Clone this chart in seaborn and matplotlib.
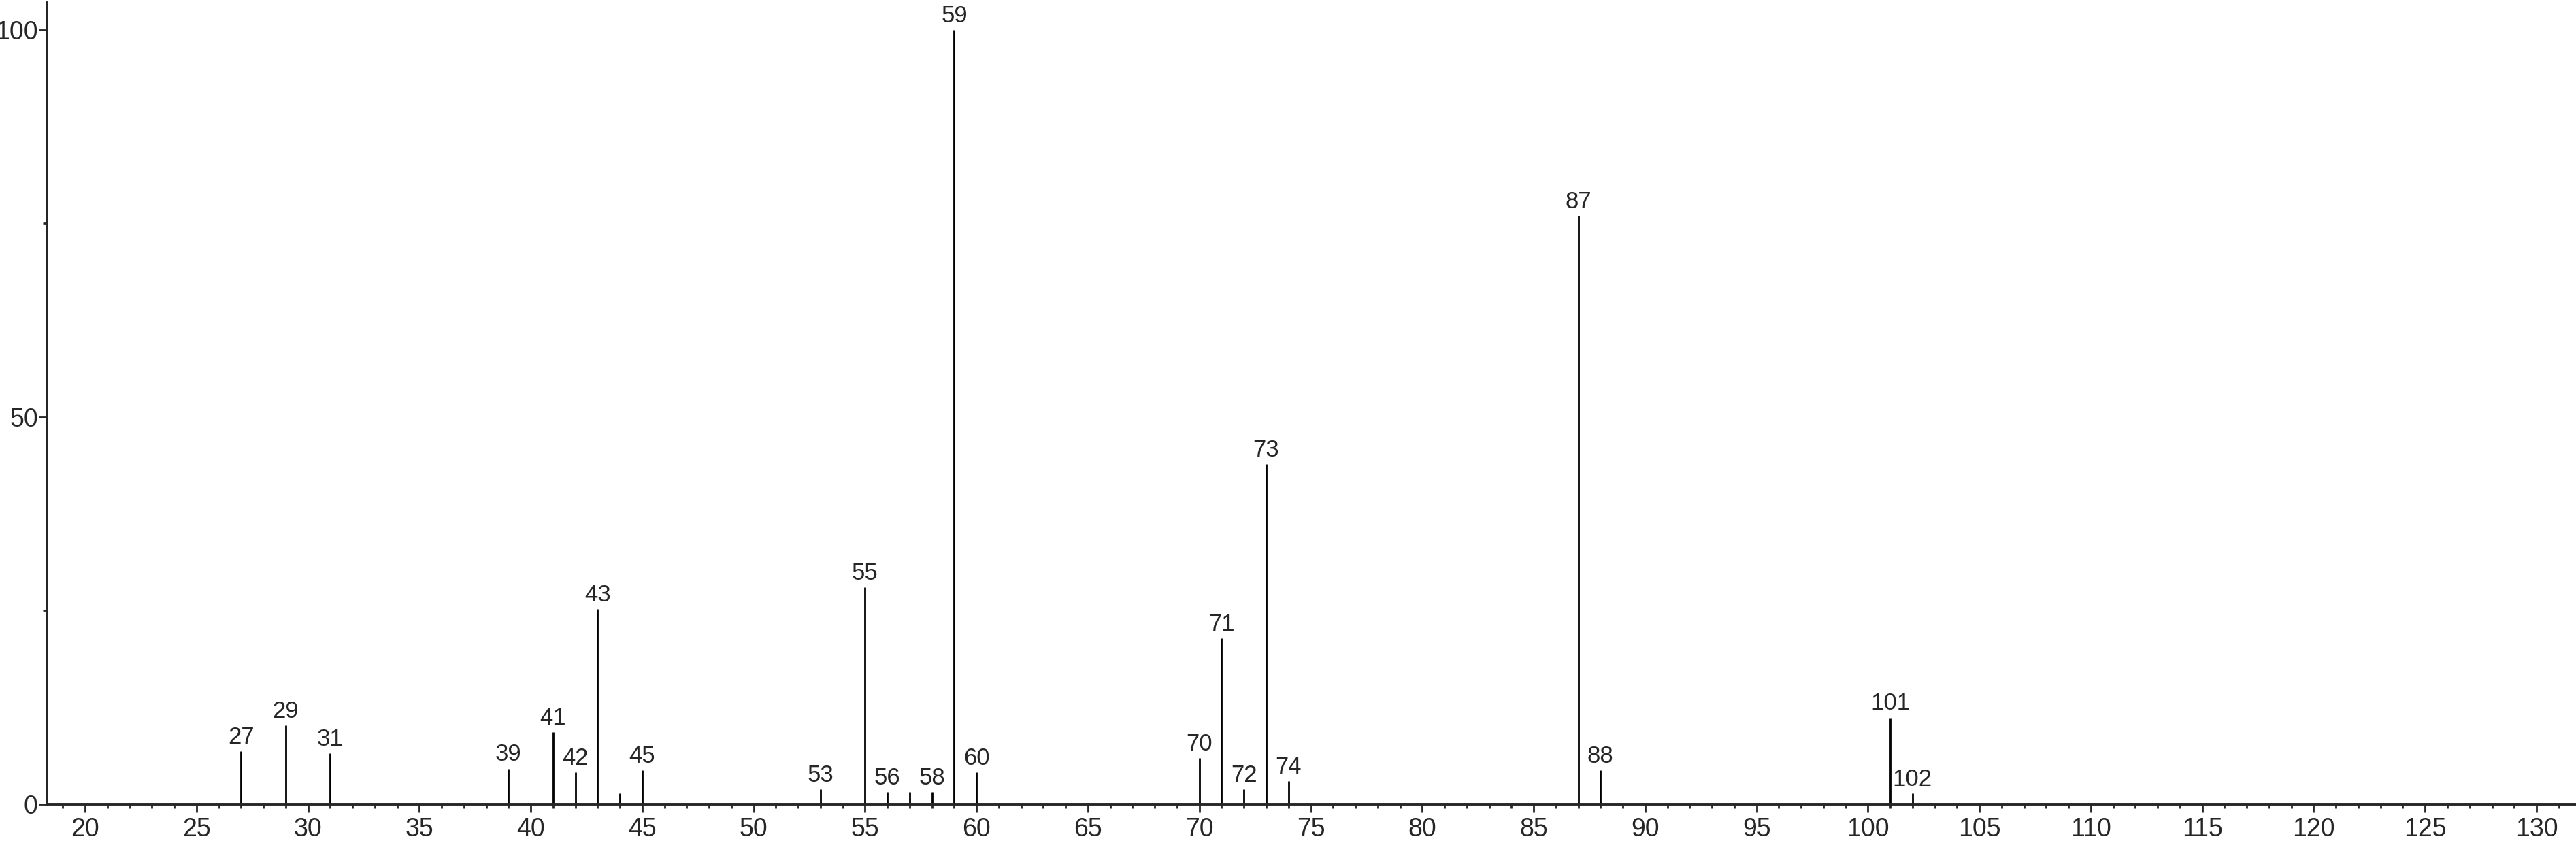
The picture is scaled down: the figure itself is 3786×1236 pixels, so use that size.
import numpy as np
import pandas as pd
import matplotlib
matplotlib.use("Agg")
import matplotlib.pyplot as plt
import seaborn as sns
from matplotlib.ticker import MultipleLocator

# m/z values and relative intensities
mz = [27, 29, 31, 39, 41, 42, 43, 44, 45, 53, 55, 56, 57, 58, 59, 60,
      70, 71, 72, 73, 74, 87, 88, 101, 102]
intensity = [6.85, 10.2, 6.55, 4.6, 9.3, 4.1, 25.2, 1.4, 4.4, 1.9, 28.0, 1.6, 1.6, 1.6, 100.0, 4.1,
             6.0, 21.4, 1.9, 43.9, 3.0, 76.0, 4.4, 11.2, 1.4]
# peaks that carry a text label
labelled = [27, 29, 31, 39, 41, 42, 43, 45, 53, 55, 56, 58, 59, 60,
            70, 71, 72, 73, 74, 87, 88, 101, 102]

df = pd.DataFrame({"mz": mz, "intensity": intensity})

sns.set_style("ticks")
plt.rcParams['font.family'] = ['Liberation Sans', 'DejaVu Sans']

fig = plt.figure(figsize=(37.86, 12.36), dpi=100)
ax = fig.add_axes([69 / 3786, 54 / 1236, 1 - 69 / 3786, 1178 / 1236])

# stick spectrum
ax.vlines(df["mz"], 0, df["intensity"], color="black", linewidth=2.0)

for x, y in zip(df["mz"], df["intensity"]):
    if x in labelled:
        ax.annotate(str(x), (x, y), xytext=(0, 3), textcoords="offset points",
                    ha="center", va="bottom", fontsize=25, annotation_clip=False)

ax.set_xlim(18.29, 131.77)
ax.set_ylim(0, 103.5)

ax.xaxis.set_major_locator(MultipleLocator(5))
ax.xaxis.set_minor_locator(MultipleLocator(1))
ax.yaxis.set_major_locator(MultipleLocator(50))
ax.yaxis.set_minor_locator(MultipleLocator(25))

ax.tick_params(axis="both", which="major", length=8.5, width=2, labelsize=27, direction="out")
ax.tick_params(axis="both", which="minor", length=4.5, width=2, direction="out")
ax.tick_params(axis="x", which="major", pad=5)
ax.tick_params(axis="y", which="major", pad=1)

sns.despine(ax=ax, top=True, right=True)
ax.spines["left"].set_linewidth(2.8)
ax.spines["bottom"].set_linewidth(2.8)

fig.savefig("out.png", dpi=100)
